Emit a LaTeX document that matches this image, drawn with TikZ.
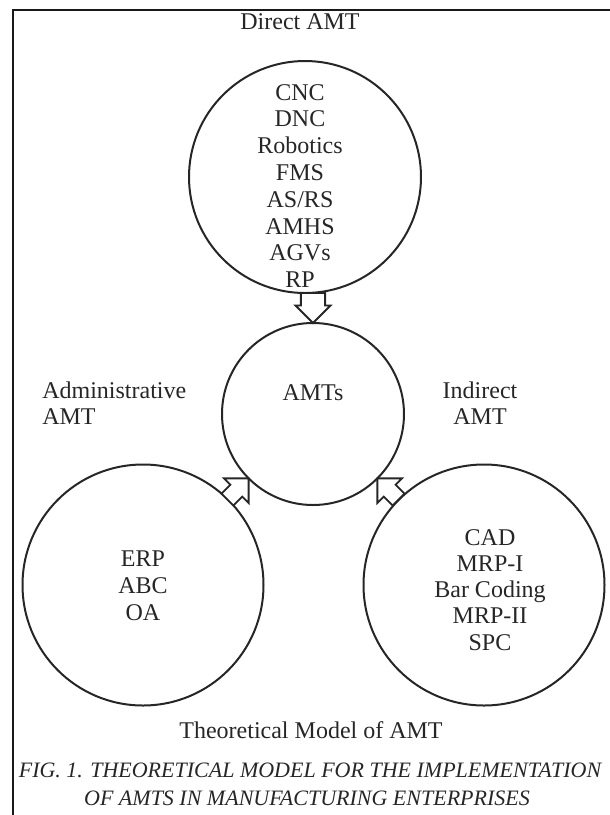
\documentclass[tikz,border=0pt]{standalone}
\usepackage{fontspec}
\setmainfont{Liberation Serif}
\usetikzlibrary{shapes.arrows,calc}
\begin{document}
\begin{tikzpicture}[x=0.75pt,y=-0.75pt,
  ring/.style={circle,draw=black!85,line width=1.5pt,outer sep=0pt,inner sep=0pt},
  txt/.style={font=\fontsize{18}{20.1}\selectfont,inner sep=0pt,align=center,text=black!85},
  captxt/.style={font=\fontsize{16.5}{21}\selectfont\itshape,inner sep=0pt,text=black!85},
  blockarrow/.style={single arrow,draw=black!85,fill=white,line width=1.4pt,
    inner xsep=0pt,inner ysep=5.6pt,minimum width=0pt,
    single arrow head extend=6.8pt,single arrow tip angle=90,
    minimum height=22.5pt,outer sep=0pt},
  widearrow/.style={blockarrow,inner ysep=8.4pt,single arrow head extend=4pt}
]
\useasboundingbox (0,0) rectangle (610,815);
% frame
\draw[line width=2.2pt,black!90] (13,815) -- (13,10) -- (610,10);

% circles
\node[ring,minimum size=232*0.75pt] (direct) at (305,177) {};
\node[ring,minimum size=182*0.75pt] (amts) at (313,414) {};
\node[ring,minimum size=241*0.75pt] (admin) at (143,585) {};
\node[ring,minimum size=241*0.75pt] (indirect) at (484,585) {};

% texts
\node[txt] (tdirect) at (300,22) {Direct AMT};
\node[txt,font=\fontsize{18}{20.1}\selectfont] (ldirect) at (300,186)
  {CNC\\DNC\\Robotics\\FMS\\AS/RS\\AMHS\\AGVs\\RP};
\node[txt] (lamts) at (313,393) {AMTs};
\node[txt,align=left,anchor=west,font=\fontsize{18}{19}\selectfont] (tadmin) at (42,403) {Administrative\\AMT};
\node[txt,font=\fontsize{18}{19}\selectfont] (tindirect) at (480,403) {Indirect\\AMT};
\node[txt,font=\fontsize{18}{20.2}\selectfont] (ladmin) at (143,586) {ERP\\ABC\\OA};
\node[txt,font=\fontsize{18}{19.6}\selectfont] (lindirect) at (490,590) {CAD\\MRP-I\\Bar Coding\\MRP-II\\SPC};
\node[txt] (title) at (311,730) {Theoretical Model of AMT};
\node[captxt] (cap1) at (310,770) {FIG. 1. THEORETICAL MODEL FOR THE IMPLEMENTATION};
\node[captxt] (cap2) at (307,798) {OF AMTS IN MANUFACTURING ENTERPRISES};

% arrows
\node[widearrow,rotate=270,anchor=tip] (a1) at (amts.north) {};
\node[blockarrow,rotate=45,anchor=tip] (a2) at (amts.225) {};
\node[blockarrow,rotate=135,anchor=tip] (a3) at (amts.315) {};
\end{tikzpicture}
\end{document}
